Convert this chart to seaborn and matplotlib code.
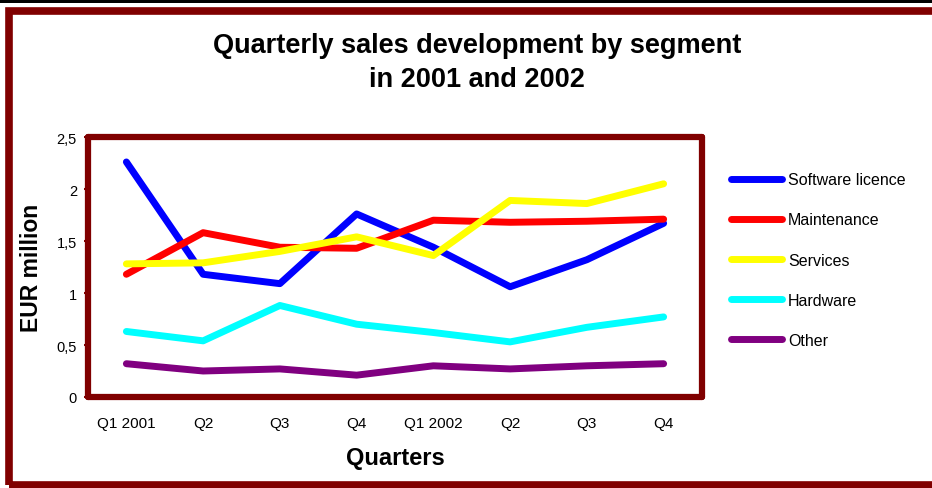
import matplotlib
matplotlib.use("Agg")
import matplotlib.pyplot as plt
import seaborn as sns
import pandas as pd
from matplotlib.patches import Rectangle
from matplotlib.lines import Line2D

quarters = ["Q1 2001", "Q2", "Q3", "Q4", "Q1 2002", "Q2", "Q3", "Q4"]
software_licence = [2.26, 1.18, 1.09, 1.76, 1.44, 1.06, 1.32, 1.67]
maintenance = [1.18, 1.58, 1.44, 1.43, 1.70, 1.68, 1.69, 1.71]
services = [1.28, 1.29, 1.40, 1.54, 1.36, 1.89, 1.86, 2.05]
hardware = [0.63, 0.54, 0.88, 0.70, 0.62, 0.53, 0.67, 0.77]
other = [0.32, 0.25, 0.27, 0.21, 0.30, 0.27, 0.30, 0.32]

segments = ["Software licence", "Maintenance", "Services", "Hardware", "Other"]
series = [software_licence, maintenance, services, hardware, other]
colors = ["#0000FF", "#FF0000", "#FFFF00", "#00FFFF", "#800080"]
yticks = [0, 0.5, 1, 1.5, 2, 2.5]
ytick_labels = ["0", "0,5", "1", "1,5", "2", "2,5"]

rows = []
for seg, vals in zip(segments, series):
    for i, v in enumerate(vals):
        rows.append({"idx": i, "value": v, "segment": seg})
df = pd.DataFrame(rows)

sns.set_theme(style="white")
plt.rcParams["font.family"] = ["Liberation Sans", "DejaVu Sans"]
plt.rcParams["text.color"] = "black"
plt.rcParams["axes.labelcolor"] = "black"
plt.rcParams["xtick.color"] = "black"
plt.rcParams["ytick.color"] = "black"

DR = "#800000"
fig = plt.figure(figsize=(9.32, 4.89), dpi=100)
fig.patch.set_facecolor("white")

# outer frame
fig.add_artist(Rectangle((8.5 / 932, 3.5 / 489), 1.2, 474 / 489, transform=fig.transFigure,
                         fill=False, edgecolor=DR, linewidth=5.5, zorder=0))
fig.add_artist(Rectangle((0, 1 - 4 / 489), 1, 4 / 489, transform=fig.transFigure,
                         facecolor="black", edgecolor="none", zorder=0))

ax = fig.add_axes([88 / 932, 1 - 398 / 489, (702 - 88) / 932, (398 - 138) / 489])
ax.set_facecolor("white")

palette = dict(zip(segments, colors))
sns.lineplot(data=df, x="idx", y="value", hue="segment", hue_order=segments,
             palette=palette, linewidth=5, legend=False, ax=ax, zorder=3)
for ln in ax.lines:
    ln.set_solid_capstyle("round")
    ln.set_solid_joinstyle("round")

ax.set_xlim(-0.5, len(quarters) - 0.5)
ax.set_ylim(0, 2.5)
ax.set_xticks(range(len(quarters)))
ax.set_xticklabels(quarters, fontsize=11)
ax.set_xticks([i - 0.5 for i in range(len(quarters) + 1)], minor=True)
ax.tick_params(axis="x", which="major", length=0, pad=14, labelcolor="black")
ax.tick_params(axis="x", which="minor", length=4, width=4, color=DR, direction="out")
ax.set_yticks(yticks)
ax.set_yticklabels(ytick_labels, fontsize=10.5)
ax.tick_params(axis="y", which="major", length=3, width=1.5, color=DR, left=True, pad=5,
               labelcolor="black")

for sp in ax.spines.values():
    sp.set_visible(True)
    sp.set_color(DR)
    sp.set_linewidth(4.5)
    sp.set_capstyle("round")

ax.set_xlabel("Quarters", fontsize=17, fontweight="bold", labelpad=11, color="black")
ax.set_ylabel("EUR million", fontsize=16.5, fontweight="bold", labelpad=10, color="black")
ax.grid(False)

fig.text(477 / 932, 1 - 63 / 489,
         "Quarterly sales development by segment\nin 2001 and 2002",
         ha="center", va="center", fontsize=19.5, fontweight="bold", linespacing=1.38,
         color="black")

handles = [Line2D([0], [0], color=c, linewidth=5, solid_capstyle="round") for c in colors]
fig.legend(handles, segments, loc="upper left", bbox_to_anchor=(717 / 932, 1 - 159 / 489),
           frameon=False, fontsize=11.5, handlelength=3.2, handletextpad=0.35,
           labelspacing=1.57, labelcolor="black")

fig.savefig("out.png", dpi=100)
